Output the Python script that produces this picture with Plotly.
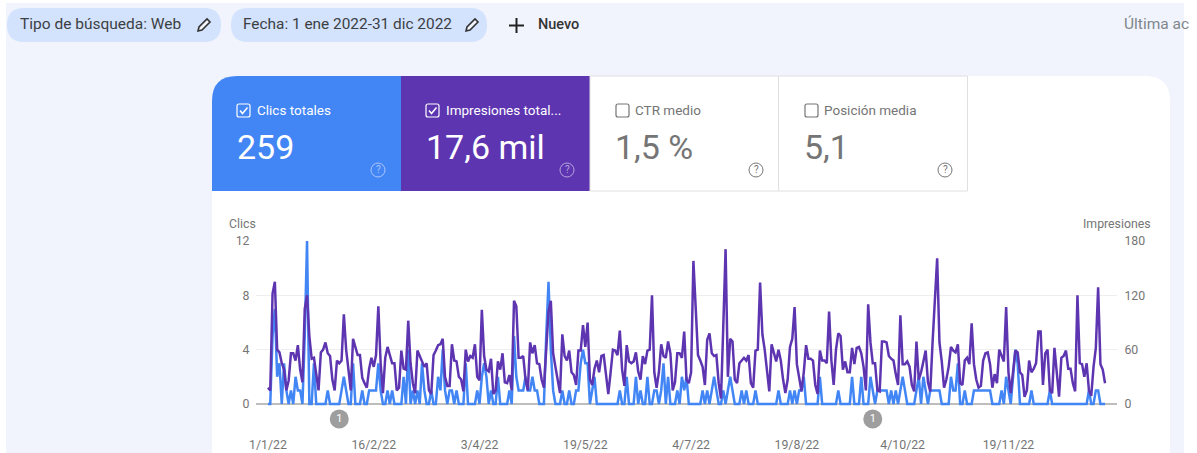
import pandas as pd
import plotly.graph_objects as go

W, H = 1197, 453

start_date = "2022-01-01"
tick_dates = ["2022-01-01", "2022-02-16", "2022-04-03", "2022-05-19", "2022-07-04", "2022-08-19", "2022-10-04", "2022-11-19"]
tick_labels = ["1/1/22", "16/2/22", "3/4/22", "19/5/22", "4/7/22", "19/8/22", "4/10/22", "19/11/22"]
event_dates = ["2022-02-01", "2022-09-21"]
event_labels = ["1", "1"]

clicks = [
    0,0,5,7,2,3,0,3,1,0, 1,0,2,1,1,0,5,12,0,0, 3,0,0,0,0,0,1,0,0,0, 0,0,1,2,1,0,0,3,0,0,
    0,1,0,0,1,1,1,1,3,1, 0,0,1,0,1,0,0,0,0,2, 0,4,0,1,0,1,0,3,1,0, 0,1,0,0,2,1,4,1,0,1,
    1,0,1,0,0,0,3,0,0,0, 0,1,0,2,3,2,0,1,0,0, 2,0,0,0,0,1,0,5,2,1, 1,1,2,1,1,2,1,1,0,0,
    0,5,9,
    4,1,0,0,0,1,0,0,1,0, 0,1,1,3,4,3,3,0,1,2, 0,0,0,0,0,0,0,0,0,0, 1,0,0,2,0,0,0,2,0,1,
    0,0,2,0,0,1,1,0,1,3, 0,2,0,0,0,1,0,2,1,2, 0,0,0,0,0,0,1,0,1,0, 1,2,1,0,0,1,0,1,2,1,
    0,0,0,1,0,1,0,0,0,1, 0,0,0,0,0,0,0,0,0,1, 0,0,0,0,1,0,1,0,1,1, 2,0,0,0,0,0,0,2,0,0,
    0,0,0,0,0,1,
    0,0,0,0,0,2,0,0,0,2, 0,0,0,2,1,0,1,1,1,1, 1,0,1,0,1,0,1,2,1,0, 0,0,0,1,2,0,2,1,0,1,
    1,1,1,1,0,0,0,0,2,1, 1,3,0,0,1,0,0,0,1,1, 1,1,1,1,1,1,0,0,0,0, 1,0,2,1,0,2,4,3,0,0,
    0,0,0,1,0,0,0,0,0,0, 0,1,0,0,0,0,0,0,0,0, 0,0,0,0,0,0,0,0,1,0, 0,1,1,0,0,0,
]

impressions = [
    18,15,122,135,60,57,45,38,15,26, 56,56,48,65,38,24,105,120,75,50,
    51,30,15,57,60,68,56,53,27,15, 48,45,48,99,60,38,15,72,63,54,
    54,29,23,18,39,51,41,54,108,45, 12,51,63,54,45,45,15,18,59,39,
    38,92,45,23,12,59,53,48,41,45, 15,11,54,59,65,66,72,30,20,20,
    66,48,47,30,27,14,60,47,53,51, 66,30,26,104,53,38,36,50,11,15,
    47,38,56,24,23,32,15,114,108,51, 51,53,27,15,68,56,65,45,44,27,
    18,60,102,
    114,56,41,27,12,77,53,48,59,35, 32,21,59,59,87,63,90,27,21,39,
    48,35,53,54,35,11,35,60,59,54, 81,38,20,65,47,45,47,57,36,27,
    53,44,59,60,120,35,18,35,66,53, 51,69,56,15,24,56,56,51,80,27,
    23,35,158,102,54,48,41,21,71,78, 56,53,54,23,6,86,171,30,72,69,
    27,23,45,48,51,48,54,23,18,59, 60,134,77,60,38,14,66,56,47,60,
    48,27,12,27,63,72,107,44,30,14, 35,65,50,50,48,21,11,59,48,48,
    45,102,48,21,60,78,
    75,38,47,35,35,62,44,62,63,56, 41,15,110,68,45,45,15,14,69,69,
    68,53,50,48,33,21,98,44,44,47, 41,21,14,69,27,35,47,59,24,14,
    68,113,161,68,47,18,27,41,63,59, 57,66,23,21,48,51,44,89,44,27,
    18,20,48,56,57,44,18,33,23,60, 53,47,107,35,12,35,59,57,35,32,
    8,15,48,35,39,45,80,80,21,56, 60,15,12,62,35,8,51,53,59,39,
    39,23,14,120,45,44,30,45,15,9, 41,62,129,44,38,23,
]

assert len(clicks) == 365 and len(impressions) == 365, (len(clicks), len(impressions))

dates = pd.date_range(start_date, periods=len(clicks))

BLUE, PURPLE, GREY, TXT = "#4285f4", "#5e35b1", "#757575", "#3c4043"
FONT = "Roboto"


def px(x):
    return x / W


def py(y):
    return 1 - y / H


def rrect(x0, y0, x1, y1, tl=0, tr=0, br=0, bl=0):
    return (
        f"M {px(x0 + tl)} {py(y0)} L {px(x1 - tr)} {py(y0)} Q {px(x1)} {py(y0)} {px(x1)} {py(y0 + tr)} "
        f"L {px(x1)} {py(y1 - br)} Q {px(x1)} {py(y1)} {px(x1 - br)} {py(y1)} "
        f"L {px(x0 + bl)} {py(y1)} Q {px(x0)} {py(y1)} {px(x0)} {py(y1 - bl)} "
        f"L {px(x0)} {py(y0 + tl)} Q {px(x0)} {py(y0)} {px(x0 + tl)} {py(y0)} Z"
    )


shapes, notes = [], []


def path(d, fill=None, line=None, width=1):
    shapes.append(dict(type="path", path=d, xref="paper", yref="paper", layer="below",
                       fillcolor=fill or "rgba(0,0,0,0)",
                       line=dict(color=line or "rgba(0,0,0,0)", width=width if line else 0)))


def poly(pts):
    return "M " + " L ".join(f"{px(a)} {py(b)}" for a, b in pts)


def text(x, y, s, size=13, color=TXT, anchor="left", weight=400):
    notes.append(dict(x=px(x), y=py(y), xref="paper", yref="paper", text=s, showarrow=False,
                      xanchor=anchor, yanchor="middle", borderpad=0,
                      font=dict(family=FONT, size=size, color=color, weight=weight)))


def pencil(x, y):
    path(poly([(x - 6, y + 6), (x - 5, y + 2), (x + 3, y - 6), (x + 6, y - 3), (x - 2, y + 5)]) + " Z",
         fill="#f1f4fd", line="#333333", width=1.6)


def help_icon(x, y, color):
    shapes.append(dict(type="circle", xref="paper", yref="paper", layer="below",
                       x0=px(x - 7), x1=px(x + 7), y0=py(y + 7), y1=py(y - 7),
                       line=dict(color=color, width=1)))
    text(x, y, "?", 10, color, "center")


def checkbox(x, y, color, checked):
    path(rrect(x, y, x + 13, y + 13, 2, 2, 2, 2), line=color, width=1.2)
    if checked:
        path(poly([(x + 3, y + 6.5), (x + 5.5, y + 9.5), (x + 10.5, y + 3.5)]), line=color, width=1.5)


# page, panel and card
path(rrect(6, 3, 1184, H), fill="#f1f4fd")
path(rrect(212, 76, 1170, H, 25, 25, 0, 0), fill="#ffffff")

# filter bar
path(rrect(7, 8, 221, 42, 17, 17, 17, 17), fill="#d3e3fd")
path(rrect(231, 8, 487, 42, 17, 17, 17, 17), fill="#d3e3fd")
text(19, 24, "Tipo de búsqueda: Web", 15.5)
pencil(204, 25)
text(242, 24, "Fecha: 1 ene 2022-31 dic 2022", 15.4)
pencil(472, 25)
path(poly([(509, 25.5), (524, 25.5)]), line="#222222", width=2)
path(poly([(516.5, 18), (516.5, 33)]), line="#222222", width=2)
text(537, 24, "Nuevo", 14.5, "#333333", weight=500)
text(1123, 24, "Última ac", 15.5, "#80868b")

# metric tiles
path(rrect(212, 76, 401, 191, 25, 0, 0, 0), fill=BLUE)
path(rrect(401, 76, 590, 191), fill=PURPLE)
path(rrect(590, 76, 778.5, 191), fill="#ffffff", line="#e0e0e0", width=1)
path(rrect(778.5, 76, 967.5, 191), fill="#ffffff", line="#e0e0e0", width=1)

checkbox(237, 104, "#ffffff", True)
text(256, 109.5, "Clics totales", 13.5, "#ffffff")
text(236, 147, "259", 34, "#ffffff")
help_icon(378, 170, "#a9c6fa")

checkbox(426, 104, "#ffffff", True)
text(445, 109.5, "Impresiones total...", 13.5, "#ffffff")
text(425, 147, "17,6 mil", 34, "#ffffff")
help_icon(567, 170, "#b6a3dc")

checkbox(616, 104, GREY, False)
text(634, 109.5, "CTR medio", 13.5, GREY)
text(614, 147, "1,5 %", 34, GREY)
help_icon(756, 170, GREY)

checkbox(805, 104, GREY, False)
text(823, 109.5, "Posición media", 13.5, GREY)
text(803, 147, "5,1", 34, GREY)
help_icon(945, 170, GREY)

# axis captions
text(227.5, 224, "Clics", 12.3, GREY)
text(1152, 224, "Impresiones", 12.3, GREY, "right")

fig = go.Figure()
fig.add_trace(go.Scatter(x=dates, y=impressions, yaxis="y2", mode="lines", name="Impresiones",
                         line=dict(color=PURPLE, width=2.5), hoverinfo="skip"))
fig.add_trace(go.Scatter(x=dates, y=clicks, yaxis="y", mode="lines", name="Clics",
                         line=dict(color=BLUE, width=2.5), hoverinfo="skip"))
fig.add_trace(go.Scatter(x=pd.to_datetime(event_dates), y=[-1.1] * len(event_dates), yaxis="y",
                         mode="markers+text", text=event_labels, textposition="middle center",
                         textfont=dict(family=FONT, size=11, color="#ffffff"),
                         marker=dict(size=19, color="#9e9e9e"), hoverinfo="skip", cliponaxis=False))

axis_font = dict(family=FONT, size=12.3, color=GREY)
fig.update_layout(
    width=W, height=H, autosize=False, showlegend=False,
    margin=dict(l=0, r=0, t=0, b=0, autoexpand=False),
    paper_bgcolor="#ffffff", plot_bgcolor="rgba(0,0,0,0)",
    shapes=shapes, annotations=notes,
    xaxis=dict(domain=[px(256), px(1117)], type="date", automargin=False,
               range=["2021-12-26 19:12", "2023-01-05 04:48"],
               tickmode="array", tickvals=tick_dates, ticktext=tick_labels,
               tickfont=axis_font, showgrid=False, zeroline=False, showline=False, ticks=""),
    yaxis=dict(domain=[py(436), py(241)], range=[-2.356, 12], automargin=False,
               tickmode="array", tickvals=[0, 4, 8, 12], ticktext=["0", "4", "8", "12"],
               tickfont=axis_font, showgrid=True, gridcolor="#eeeeee", gridwidth=1,
               zeroline=True, zerolinecolor="#bdbdbd", zerolinewidth=2, showline=False,
               ticks="outside", ticklen=3, tickcolor="rgba(0,0,0,0)"),
    yaxis2=dict(domain=[py(436), py(241)], range=[-35.34, 180], overlaying="y", side="right", anchor="x",
                automargin=False,
                tickmode="array", tickvals=[0, 60, 120, 180], ticktext=["0", "60", "120", "180"],
                tickfont=axis_font, showgrid=False, zeroline=False, showline=False,
                ticks="outside", ticklen=4, tickcolor="rgba(0,0,0,0)"),
)

fig.write_html("out.html", config=dict(displayModeBar=False),
               post_script="document.body.style.margin='0';document.documentElement.style.overflow='hidden';")
